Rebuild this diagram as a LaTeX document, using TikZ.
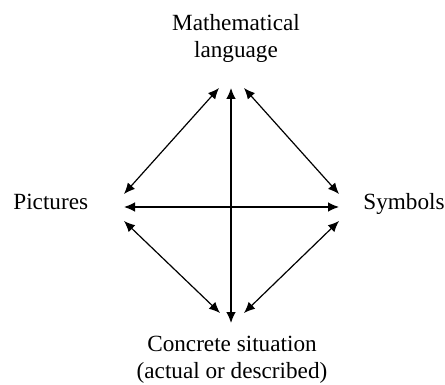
\documentclass[tikz,border=0pt]{standalone}
\usepackage{fontspec}
\setmainfont{Liberation Serif}
\usetikzlibrary{arrows.meta}

\begin{document}
\begin{tikzpicture}[
    x=0.5pt, y=-0.5pt,
    every node/.style={font=\rmfamily\fontsize{11.6}{13.5}\selectfont, inner sep=0pt},
    label text/.style={align=center},
    link/.style={{Latex[length=5.5pt,width=4.8pt]}-{Latex[length=5.5pt,width=4.8pt]}, line width=0.6pt}
  ]
    \useasboundingbox (0,0) rectangle (445,385);

    \node[label text, anchor=north] (maths) at (236,14) {Mathematical\\language};
    \node[anchor=base west] (pics) at (13,210) {Pictures};
    \node[anchor=base west] (syms) at (363,210) {Symbols};
    \node[label text, anchor=north] (conc) at (232,336) {Concrete situation\\(actual or described)};

    % arrow ends round the centre
    \coordinate (mtop) at (231,88);
    \coordinate (mtl) at (219,88);
    \coordinate (mtr) at (244,88);
    \coordinate (cbot) at (231,323);
    \coordinate (cbl) at (220,313);
    \coordinate (cbr) at (244,313);
    \coordinate (pmid) at (124,207);
    \coordinate (pup) at (124,194);
    \coordinate (pdown) at (124,221);
    \coordinate (smid) at (339,207);
    \coordinate (sup) at (339,194);
    \coordinate (sdown) at (339,221);

    \draw[link] (mtop) -- (cbot);
    \draw[link] (pmid) -- (smid);
    \draw[link] (pup) -- (mtl);
    \draw[link] (sup) -- (mtr);
    \draw[link] (pdown) -- (cbl);
    \draw[link] (sdown) -- (cbr);
  \end{tikzpicture}
\end{document}
